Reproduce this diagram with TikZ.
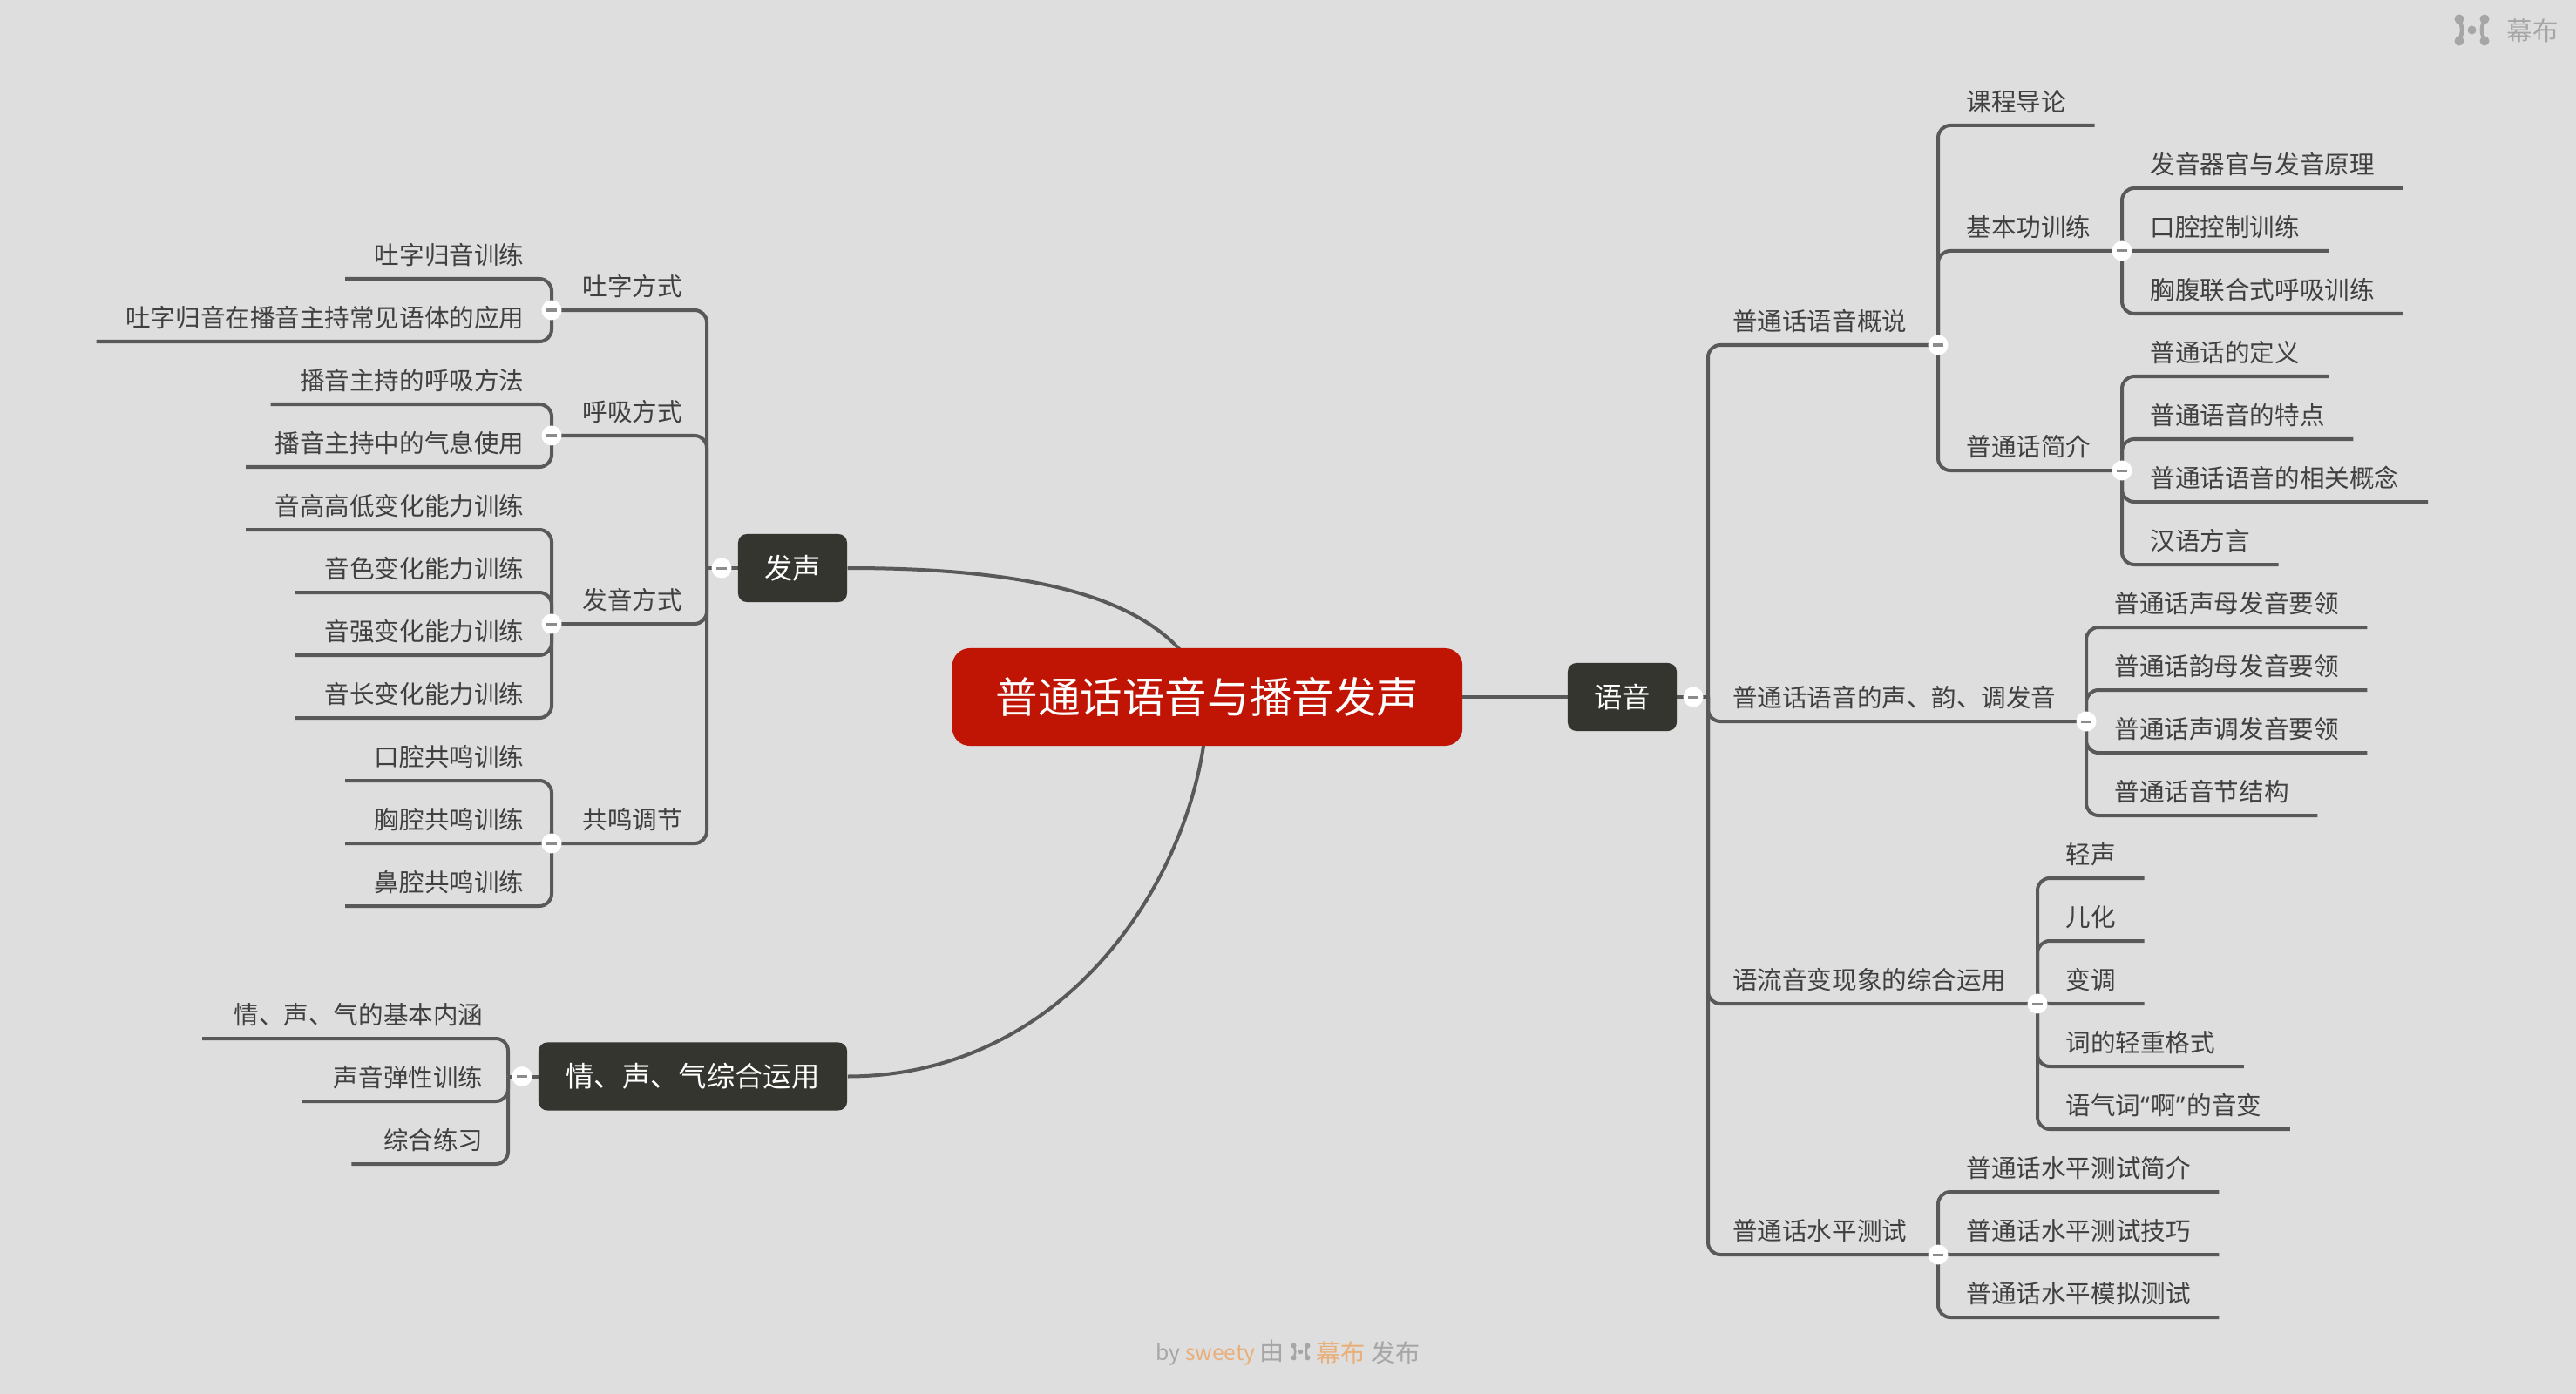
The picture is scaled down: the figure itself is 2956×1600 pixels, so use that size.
\documentclass[tikz,border=0pt]{standalone}
\usepackage{fontspec}
\usepackage{xcolor}
\setmainfont{Noto Sans CJK SC}
\newfontfamily\quotefont{Noto Sans}
\usetikzlibrary{positioning, calc}
\definecolor{MapPaper}{HTML}{DEDEDE}
\definecolor{MapRed}{HTML}{C01405}
\definecolor{MapDark}{HTML}{353530}
\definecolor{MapLine}{HTML}{595959}
\definecolor{MapText}{HTML}{404040}
\definecolor{MapMark}{HTML}{A6A6A6}
\definecolor{MapOrange}{HTML}{E9AF7A}
\pgfdeclarelayer{paper}
\pgfdeclarelayer{wires}
\pgfsetlayers{paper,wires,main}
\tikzset{
  branch/.style={draw=MapLine, line width=.04cm, rounded corners=.14cm},
  textshift/.style={execute at begin node={\hspace{#1}}, execute at end node={\hspace{-#1}}},
  topic/.style={text=MapText, font=\fontsize{8.12}{10}\selectfont, inner xsep=.32cm, inner ysep=.085cm, text depth=.07cm, text height=.24cm},
  topicR/.style={topic, anchor=south west},
  topicL/.style={topic, anchor=south east, textshift=.01cm},
  headR/.style={topic, anchor=south west, textshift=-.045cm},
  headL/.style={topic, anchor=south east, textshift=.045cm},
  tailL/.style={topic, anchor=south east, textshift=.04cm},
  boxnode/.style={fill=MapDark, text=white, rounded corners=.1cm, inner sep=0pt, minimum height=.78cm, font=\fontsize{9.2}{11}\selectfont},
  rootnode/.style={fill=MapRed, text=white, rounded corners=.2cm, inner sep=0pt, minimum width=5.85cm, minimum height=1.12cm, font=\fontsize{13.8}{16}\selectfont},
  bullet/.style={circle, fill=white, inner sep=0pt, minimum size=.23cm, path picture={
      \draw[MapLine!70, line width=.03cm] ([xshift=-.06cm]path picture bounding box.center) -- ([xshift=.06cm]path picture bounding box.center);}},
  logomark/.pic={
    \foreach \sx in {-1,1}{
      \fill[MapMark] (\sx*14.5,-12.5) circle (5.5);
      \fill[MapMark] (\sx*14.5,12.5) circle (5.5);
      \fill[MapMark] (\sx*17,-11) .. controls (\sx*12.5,-3) and (\sx*12.5,3) .. (\sx*17,11) -- (\sx*12,11) .. controls (\sx*8,3) and (\sx*8,-3) .. (\sx*12,-11) -- cycle;}
    \fill[MapMark] (0,0) circle (5);}
}
% #1 style, #2 anchor of the line end, #3 node or coordinate the lines leave, #4 x, #5 name/y/text
\newcommand{\twigs}[5]{\foreach \nm/\yy/\txt in {#5}{
    \node[#1] (\nm) at (#4,\yy) {\txt};
    \begin{pgfonlayer}{wires}\draw[branch] (#3) |- (\nm.#2);\end{pgfonlayer}}}
\begin{document}
\begin{tikzpicture}[x=.01cm, y=-.01cm]
  \begin{pgfonlayer}{paper}
    \fill[MapPaper] (0,0) rectangle (2956,1600);
  \end{pgfonlayer}
  \useasboundingbox (0,0) rectangle (2956,1600);
  % main boxes
  \node[rootnode] (root) at (1385.5,800) {普通话语音与播音发声};
  \node[boxnode, minimum width=1.25cm] (yuyin) at (1861.5,800) {语音};
  \node[boxnode, minimum width=1.25cm] (fasheng) at (909.5,652) {发声};
  \node[boxnode, minimum width=3.54cm] (qingsheng) at (795,1235.5) {情、声、气综合运用};
  \coordinate (spYu) at (1960,800);
  \coordinate (spFa) at (811,652);
  \coordinate (spQing) at (583,1235.5);
  % collapse dots
  \foreach \nm/\px/\py in {dotYu/1943/800, dotGai/2224/396, dotJi/2435/288, dotJian/2435/540, dotYun/2394/828, dotLiu/2338/1152, dotCe/2224/1440,
      dotFa/828/652, dotTu/633/356, dotHu/633/500, dotFang/633/716, dotGong/633/968, dotQing/599/1235.5}{
    \node[bullet] (\nm) at (\px,\py) {};}
  % right side
  \foreach \nm/\yy/\txt/\dt in {gaishuo/396/普通话语音概说/dotGai, shengyun/828/普通话语音的声、韵、调发音/dotYun, yuliu/1152/语流音变现象的综合运用/dotLiu, ceshi/1440/普通话水平测试/dotCe}{
    \node[headR] (\nm) at (1960,\yy) {\txt};
    \begin{pgfonlayer}{wires}\draw[branch] (spYu) |- (\dt.center);\end{pgfonlayer}}
  \node[topicR] (jiben) at (2224,288) {基本功训练};
  \node[topicR] (jianjie) at (2224,540) {普通话简介};
  \begin{pgfonlayer}{wires}
    \draw[branch] (dotGai.center) |- (dotJi.center);
    \draw[branch] (dotGai.center) |- (dotJian.center);
  \end{pgfonlayer}
  \twigs{topicR}{south east}{dotGai.center}{2224}{daolun/144/课程导论}
  \twigs{topicR}{south east}{dotJi.center}{2435}{qiguan/216/发音器官与发音原理, kouqiang/288/口腔控制训练, xiongfu/360/胸腹联合式呼吸训练}
  \twigs{topicR}{south east}{dotJian.center}{2435}{dingyi/432/普通话的定义, tedian/504/普通语音的特点, gainian/576/普通话语音的相关概念, fangyan/648/汉语方言}
  \twigs{topicR}{south east}{dotYun.center}{2394}{shengmu/720/普通话声母发音要领, yunmu/792/普通话韵母发音要领, shengdiao/864/普通话声调发音要领, yinjie/936/普通话音节结构}
  \twigs{topicR}{south east}{dotLiu.center}{2338}{qingsh/1008/轻声, erhua/1080/儿化, biandiao/1152/变调, qingzhong/1224/词的轻重格式, yaqici/1296/语气词{\quotefont “}\kern.02cm啊{\quotefont ”}\kern.02cm的音变}
  \twigs{topicR}{south east}{dotCe.center}{2224}{jianj/1368/普通话水平测试简介, jiqiao/1440/普通话水平测试技巧, moni/1512/普通话水平模拟测试}
  % left side
  \foreach \nm/\yy/\txt/\dt in {tuzi/356/吐字方式/dotTu, huxi/500/呼吸方式/dotHu, fayin/716/发音方式/dotFang, gongming/968/共鸣调节/dotGong}{
    \node[headL] (\nm) at (811,\yy) {\txt};
    \begin{pgfonlayer}{wires}\draw[branch] (spFa) |- (\dt.center);\end{pgfonlayer}}
  \twigs{topicL}{south west}{dotTu.center}{633}{guiyin/320/吐字归音训练, yingyong/392/吐字归音在播音主持常见语体的应用}
  \twigs{topicL}{south west}{dotHu.center}{633}{fangfa/464/播音主持的呼吸方法, qixi/536/播音主持中的气息使用}
  \twigs{topicL}{south west}{dotFang.center}{633}{gaodi/608/音高高低变化能力训练, yinse/680/音色变化能力训练, yinqiang/752/音强变化能力训练, yinchang/824/音长变化能力训练}
  \twigs{topicL}{south west}{dotGong.center}{633}{kougong/896/口腔共鸣训练, xionggong/968/胸腔共鸣训练, bigong/1040/鼻腔共鸣训练}
  \twigs{tailL}{south west}{spQing}{583}{neihan/1192/情、声、气的基本内涵, tanxing/1264/声音弹性训练, zonghe/1336/综合练习}
  % connectors of the main boxes
  \begin{pgfonlayer}{wires}
    \draw[branch] (root.center) -- (yuyin.center);
    \draw[branch] (yuyin.center) -- (spYu);
    \draw[branch] (fasheng.center) -- (spFa);
    \draw[branch] (qingsheng.center) -- (spQing);
    \draw[MapLine, line width=.04cm] (fasheng.east) .. controls (1200,652) and (1350,690) .. (root.center);
    \draw[MapLine, line width=.04cm] (qingsheng.east) .. controls (1240,1235) and (1385,980) .. (root.center);
  \end{pgfonlayer}
  % marks
  \pic at (2836.5,34.5) {logomark};
  \node[anchor=west, inner sep=0pt, text=MapMark, font=\fontsize{8.4}{10}\selectfont] (markTop) at (2876,35) {幕布};
  \node[anchor=west, inner sep=0pt, text=MapMark, font=\fontsize{7}{9}\selectfont] (footA) at (1326,1553) {by \textcolor{MapOrange}{sweety} {\fontsize{8}{9}\selectfont 由}};
  \pic[scale=.55] at (1492.5,1551.5) {logomark};
  \node[anchor=west, inner sep=0pt, text=MapMark, font=\fontsize{8}{9}\selectfont] (footB) at (1510,1553) {\textcolor{MapOrange}{幕布} 发布};
\end{tikzpicture}
\end{document}
